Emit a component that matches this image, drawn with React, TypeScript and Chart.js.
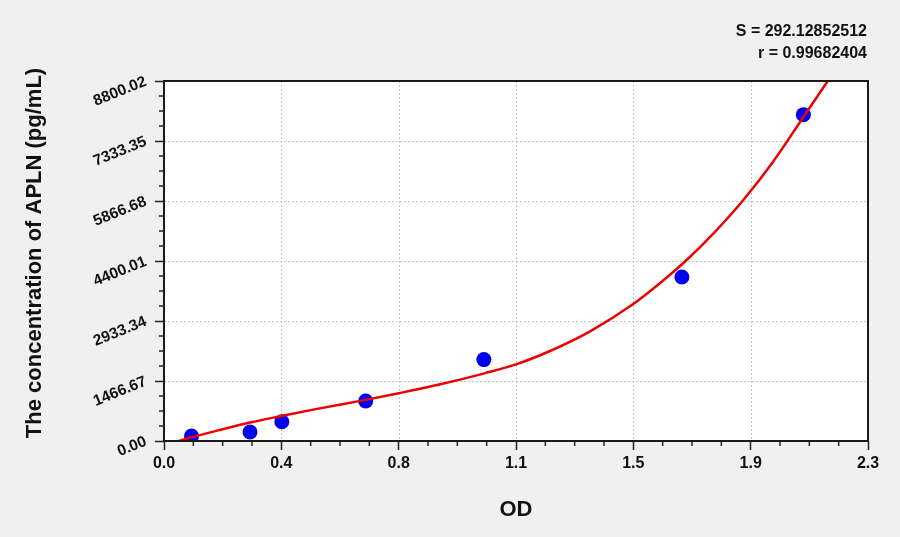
import React, { useEffect, useRef } from "react";
import { Chart, registerables } from "chart.js";

Chart.register(...registerables);

// ---- data ----
const OD_POINTS = [0.09, 0.281, 0.385, 0.659, 1.045, 1.692, 2.089];
const CONC_POINTS = [120, 220, 470, 977, 1990, 4010, 7978];

const CURVE_OD = [0.036, 0.09, 0.18, 0.281, 0.383, 0.5, 0.659, 0.767, 0.903, 1.047, 1.15, 1.261, 1.392, 1.533, 1.623, 1.704, 1.797, 1.89, 1.99, 2.089, 2.176];
const CURVE_CONC = [-30, 90, 265, 450, 610, 785, 1005, 1168, 1387, 1654, 1872, 2200, 2681, 3349, 3876, 4400, 5090, 5867, 6827, 7920, 8880];

const X_TICK_VALUES = [0, 0.38333, 0.76667, 1.15, 1.53333, 1.91667, 2.3];
const X_TICK_LABELS = ["0.0", "0.4", "0.8", "1.1", "1.5", "1.9", "2.3"];
const Y_TICK_VALUES = [0, 1466.67, 2933.34, 4400.01, 5866.68, 7333.35, 8800.02];
const Y_TICK_LABELS = ["0.00", "1466.67", "2933.34", "4400.01", "5866.68", "7333.35", "8800.02"];

const X_TITLE = "OD";
const Y_TITLE = "The concentration of APLN (pg/mL)";
const STAT_LINES = ["S = 292.12852512", "r = 0.99682404"];

const FONT = '"Liberation Sans", Arial, Helvetica, sans-serif';

const decorPlugin = {
  id: "decor",
  beforeDraw(chart: any) {
    const { ctx, chartArea: a } = chart;
    ctx.save();
    ctx.fillStyle = "#f0f0f0";
    ctx.fillRect(0, 0, chart.width, chart.height);
    ctx.fillStyle = "#ffffff";
    ctx.fillRect(a.left, a.top, a.right - a.left, a.bottom - a.top);
    // dotted grid
    const xs = chart.scales.x;
    const ys = chart.scales.y;
    ctx.strokeStyle = "#c4c4c4";
    ctx.lineWidth = 1;
    ctx.setLineDash([2, 2]);
    X_TICK_VALUES.slice(1, -1).forEach((v) => {
      const px = Math.round(xs.getPixelForValue(v)) + 0.5;
      ctx.beginPath();
      ctx.moveTo(px, a.top);
      ctx.lineTo(px, a.bottom);
      ctx.stroke();
    });
    Y_TICK_VALUES.slice(1, -1).forEach((v) => {
      const py = Math.round(ys.getPixelForValue(v)) + 0.5;
      ctx.beginPath();
      ctx.moveTo(a.left, py);
      ctx.lineTo(a.right, py);
      ctx.stroke();
    });
    ctx.restore();
  },
  afterDraw(chart: any) {
    const { ctx, chartArea: a } = chart;
    const xs = chart.scales.x;
    const ys = chart.scales.y;
    ctx.save();
    // minor ticks
    ctx.strokeStyle = "#222";
    ctx.lineWidth = 1.5;
    const xStep = (xs.max - xs.min) / 24;
    for (let i = 1; i < 24; i++) {
      if (i % 4 === 0) continue;
      const px = xs.getPixelForValue(xs.min + i * xStep);
      ctx.beginPath();
      ctx.moveTo(px, a.bottom);
      ctx.lineTo(px, a.bottom + 5);
      ctx.stroke();
    }
    const yStep = (ys.max - ys.min) / 24;
    for (let i = 1; i < 24; i++) {
      if (i % 4 === 0) continue;
      const py = ys.getPixelForValue(ys.min + i * yStep);
      ctx.beginPath();
      ctx.moveTo(a.left, py);
      ctx.lineTo(a.left - 5, py);
      ctx.stroke();
    }
    // frame
    ctx.strokeStyle = "#1a1a1a";
    ctx.lineWidth = 2;
    ctx.strokeRect(a.left, a.top, a.right - a.left, a.bottom - a.top);
    // titles
    ctx.fillStyle = "#111";
    ctx.font = `bold 22px ${FONT}`;
    ctx.textAlign = "center";
    ctx.textBaseline = "middle";
    ctx.fillText(X_TITLE, (a.left + a.right) / 2, 510);
    ctx.save();
    ctx.translate(35, 253);
    ctx.rotate(-Math.PI / 2);
    ctx.fillText(Y_TITLE, 0, 0);
    ctx.restore();
    // stats
    ctx.font = `bold 16px ${FONT}`;
    ctx.textAlign = "right";
    ctx.textBaseline = "alphabetic";
    ctx.fillText(STAT_LINES[0], a.right - 1, 36);
    ctx.fillText(STAT_LINES[1], a.right - 1, 58);
    ctx.restore();
  },
};

export default function App() {
  const ref = useRef<HTMLCanvasElement | null>(null);

  useEffect(() => {
    if (!ref.current) return;
    const chart = new Chart(ref.current, {
      type: "scatter",
      data: {
        datasets: [
          {
            label: "fit",
            data: CURVE_OD.map((x, i) => ({ x, y: CURVE_CONC[i] })),
            showLine: true,
            borderColor: "#ee0000",
            borderWidth: 2.5,
            pointRadius: 0,
            cubicInterpolationMode: "monotone",
          },
          {
            label: "standards",
            data: OD_POINTS.map((x, i) => ({ x, y: CONC_POINTS[i] })),
            backgroundColor: "#0000ee",
            borderWidth: 0,
            pointRadius: 7.5,
            pointHoverRadius: 7.5,
          },
        ],
      } as any,
      options: {
        responsive: false,
        animation: false,
        devicePixelRatio: 1,
        layout: { padding: { left: 0, top: 81, right: 32, bottom: 0 } },
        plugins: { legend: { display: false }, tooltip: { enabled: false } },
        scales: {
          x: {
            type: "linear",
            min: 0,
            max: 2.3,
            afterBuildTicks: (s: any) => {
              s.ticks = X_TICK_VALUES.map((v) => ({ value: v }));
            },
            afterFit: (s: any) => {
              s.height = 96;
            },
            border: { display: false },
            grid: {
              drawOnChartArea: false,
              drawTicks: true,
              tickLength: 9,
              tickColor: "#222",
              tickWidth: 1.5,
            },
            ticks: {
              autoSkip: false,
              maxRotation: 0,
              minRotation: 0,
              padding: 4,
              color: "#111",
              font: { family: FONT, size: 16, weight: "bold" },
              callback: (_v: any, i: number) => X_TICK_LABELS[i],
            },
          },
          y: {
            type: "linear",
            min: 0,
            max: 8800.02,
            afterBuildTicks: (s: any) => {
              s.ticks = Y_TICK_VALUES.map((v) => ({ value: v }));
            },
            afterFit: (s: any) => {
              s.width = 164;
            },
            border: { display: false },
            grid: {
              drawOnChartArea: false,
              drawTicks: true,
              tickLength: 9,
              tickColor: "#222",
              tickWidth: 1.5,
            },
            ticks: {
              autoSkip: false,
              minRotation: 22,
              maxRotation: 22,
              padding: 9,
              color: "#111",
              font: { family: FONT, size: 15.5, weight: "bold" },
              callback: (_v: any, i: number) => Y_TICK_LABELS[i],
            },
          },
        },
      } as any,
      plugins: [decorPlugin],
    });
    return () => chart.destroy();
  }, []);

  return (
    <div style={{ position: "fixed", left: 0, top: 0, width: 900, height: 537, background: "#f0f0f0" }}>
      <canvas ref={ref} width={900} height={537} style={{ display: "block", width: 900, height: 537 }} />
    </div>
  );
}
